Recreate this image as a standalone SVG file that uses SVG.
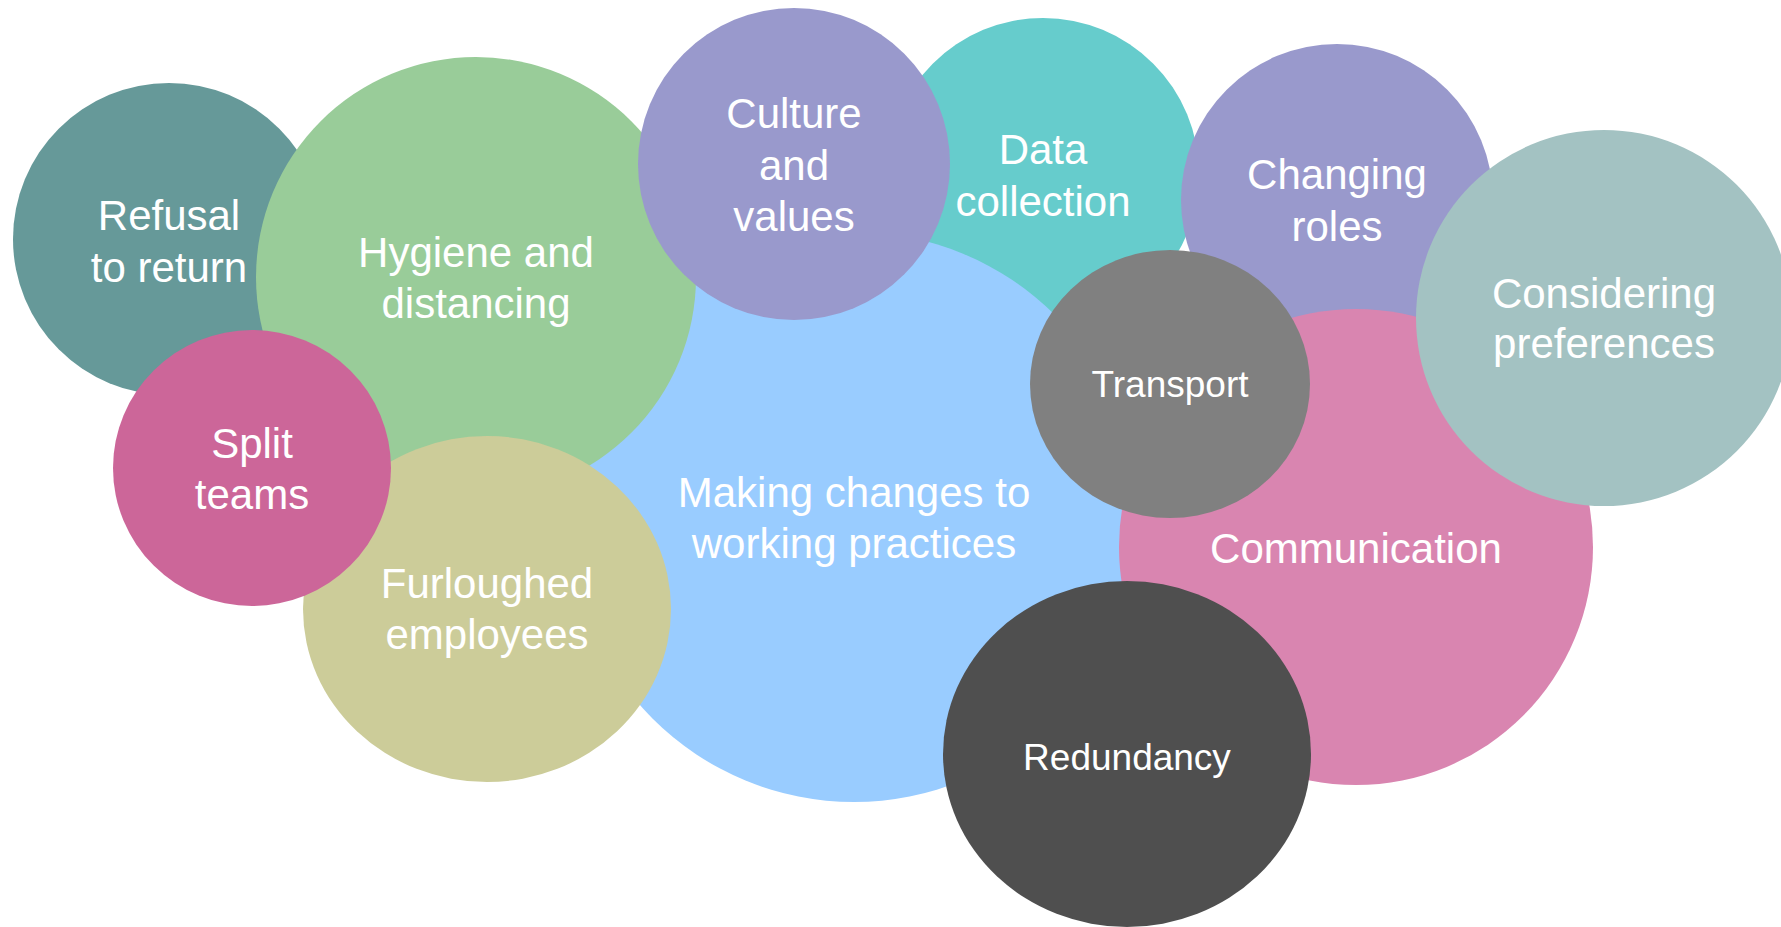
<svg xmlns="http://www.w3.org/2000/svg" width="1781" height="927" viewBox="0 0 1781 927">
<style>
text{font-family:"Liberation Sans",Arial,sans-serif;font-size:42px;fill:#FFFFFF;text-anchor:middle}
text.s{font-size:37px}
</style>
<rect width="1781" height="927" fill="#FFFFFF"/>
<g id="refusal"><ellipse cx="169" cy="239" rx="156" ry="156" fill="#669999"/><text x="169" y="230">Refusal</text><text x="169" y="282">to return</text></g>
<g id="data"><ellipse cx="1043" cy="174" rx="156" ry="156" fill="#66CCCC"/><text x="1043" y="164">Data</text><text x="1043" y="216">collection</text></g>
<g id="roles"><ellipse cx="1337" cy="200" rx="156" ry="156" fill="#9999CC"/><text x="1337" y="189">Changing</text><text x="1337" y="241">roles</text></g>
<g id="making"><ellipse cx="854" cy="517" rx="285" ry="285" fill="#99CCFF"/><text x="854" y="507">Making changes to</text><text x="854" y="558">working practices</text></g>
<g id="hygiene"><ellipse cx="476" cy="277" rx="220" ry="220" fill="#99CC99"/><text x="476" y="267">Hygiene and</text><text x="476" y="318">distancing</text></g>
<g id="furloughed"><ellipse cx="487" cy="609" rx="184" ry="173" fill="#CCCC99"/><text x="487" y="598">Furloughed</text><text x="487" y="649">employees</text></g>
<g id="split"><ellipse cx="252" cy="468" rx="139" ry="138" fill="#CC6699"/><text x="252" y="458">Split</text><text x="252" y="509">teams</text></g>
<g id="culture"><ellipse cx="794" cy="164" rx="156" ry="156" fill="#9999CC"/><text x="794" y="128">Culture</text><text x="794" y="180">and</text><text x="794" y="231">values</text></g>
<g id="communication"><ellipse cx="1356" cy="547" rx="237" ry="238" fill="#D985B0"/><text x="1356" y="563">Communication</text></g>
<g id="transport"><ellipse cx="1170" cy="384" rx="140" ry="134" fill="#808080"/><text class="s" x="1170" y="397">Transport</text></g>
<g id="considering"><ellipse cx="1604" cy="318" rx="188" ry="188" fill="#A3C2C2"/><text x="1604" y="308">Considering</text><text x="1604" y="358">preferences</text></g>
<g id="redundancy"><ellipse cx="1127" cy="754" rx="184" ry="173" fill="#4F4F4F"/><text class="s" x="1127" y="770">Redundancy</text></g>
<g id="connectors"></g>
</svg>
